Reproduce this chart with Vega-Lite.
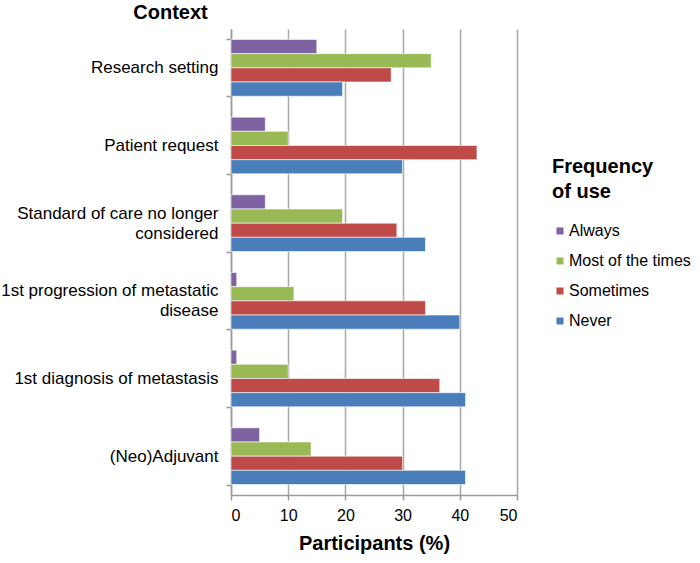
{
  "$schema": "https://vega.github.io/schema/vega-lite/v6.json",
  "width": 286,
  "height": 466,
  "autosize": {"type": "none"},
  "padding": {"left": 231, "top": 29, "right": 183, "bottom": 68},
  "background": "white",
  "config": {
    "font": "Liberation Sans",
    "view": {"stroke": null}
  },
  "data": {
    "values": [
      {"context": "Research setting", "freq": "Always", "value": 15},
      {"context": "Research setting", "freq": "Most of the times", "value": 35},
      {"context": "Research setting", "freq": "Sometimes", "value": 28},
      {"context": "Research setting", "freq": "Never", "value": 19.5},
      {"context": "Patient request", "freq": "Always", "value": 6},
      {"context": "Patient request", "freq": "Most of the times", "value": 10},
      {"context": "Patient request", "freq": "Sometimes", "value": 43},
      {"context": "Patient request", "freq": "Never", "value": 30},
      {"context": "Standard of care no longer considered", "freq": "Always", "value": 6},
      {"context": "Standard of care no longer considered", "freq": "Most of the times", "value": 19.5},
      {"context": "Standard of care no longer considered", "freq": "Sometimes", "value": 29},
      {"context": "Standard of care no longer considered", "freq": "Never", "value": 34},
      {"context": "1st progression of metastatic disease", "freq": "Always", "value": 1},
      {"context": "1st progression of metastatic disease", "freq": "Most of the times", "value": 11},
      {"context": "1st progression of metastatic disease", "freq": "Sometimes", "value": 34},
      {"context": "1st progression of metastatic disease", "freq": "Never", "value": 40},
      {"context": "1st diagnosis of metastasis", "freq": "Always", "value": 1},
      {"context": "1st diagnosis of metastasis", "freq": "Most of the times", "value": 10},
      {"context": "1st diagnosis of metastasis", "freq": "Sometimes", "value": 36.5},
      {"context": "1st diagnosis of metastasis", "freq": "Never", "value": 41},
      {"context": "(Neo)Adjuvant", "freq": "Always", "value": 5},
      {"context": "(Neo)Adjuvant", "freq": "Most of the times", "value": 14},
      {"context": "(Neo)Adjuvant", "freq": "Sometimes", "value": 30},
      {"context": "(Neo)Adjuvant", "freq": "Never", "value": 41}
    ]
  },
  "mark": {"type": "bar", "stroke": "white", "strokeWidth": 0.6},
  "encoding": {
    "y": {
      "field": "context",
      "type": "nominal",
      "sort": ["Research setting", "Patient request", "Standard of care no longer considered", "1st progression of metastatic disease", "1st diagnosis of metastasis", "(Neo)Adjuvant"],
      "scale": {"paddingInner": 0.27, "paddingOuter": 0.135},
      "axis": {
        "title": "Context",
        "titleAngle": 0,
        "titleX": -61,
        "titleY": -11,
        "titleAlign": "center",
        "titleBaseline": "alphabetic",
        "titleFontSize": 20,
        "titleFontWeight": "bold",
        "titleColor": "black",
        "tickBand": "extent",
        "tickSize": 5,
        "tickColor": "#9a9a9a",
        "tickWidth": 1.5,
        "domainColor": "#9a9a9a",
        "domainWidth": 1.5,
        "labelFontSize": 17,
        "labelColor": "black",
        "labelPadding": 8,
        "labelLimit": 300,
        "labelLineHeight": 20,
        "labelOffset": {"condition": {"test": "datum.value == 'Standard of care no longer considered' || datum.value == '1st progression of metastatic disease'", "value": -10}, "value": 0},
        "labelExpr": "datum.value == 'Standard of care no longer considered' ? ['Standard of care no longer', 'considered'] : datum.value == '1st progression of metastatic disease' ? ['1st progression of metastatic', 'disease'] : datum.value"
      }
    },
    "yOffset": {
      "field": "freq",
      "type": "nominal",
      "sort": ["Always", "Most of the times", "Sometimes", "Never"],
      "scale": {"paddingInner": 0, "paddingOuter": 0}
    },
    "x": {
      "field": "value",
      "type": "quantitative",
      "scale": {"domain": [0, 50], "nice": false},
      "axis": {
        "title": "Participants (%)",
        "titleFontSize": 20,
        "titleFontWeight": "bold",
        "titleColor": "black",
        "titlePadding": 10,
        "values": [0, 10, 20, 30, 40, 50],
        "grid": true,
        "gridColor": "#a8a8a8",
        "gridWidth": 1.5,
        "tickSize": 5,
        "tickColor": "#9a9a9a",
        "tickWidth": 1.5,
        "domainColor": "#9a9a9a",
        "domainWidth": 1.5,
        "labelFontSize": 16,
        "labelColor": "black",
        "labelPadding": 7
      }
    },
    "color": {
      "field": "freq",
      "type": "nominal",
      "sort": ["Always", "Most of the times", "Sometimes", "Never"],
      "scale": {
        "domain": ["Always", "Most of the times", "Sometimes", "Never"],
        "range": ["#7E62A1", "#98B954", "#BE4B48", "#4A7EBB"]
      },
      "legend": {
        "title": ["Frequency", "of use"],
        "orient": "none",
        "legendX": 321,
        "legendY": 128,
        "titleFontSize": 20,
        "titleFontWeight": "bold",
        "titleColor": "black",
        "titleLineHeight": 25,
        "titleAnchor": "start",
        "titleAlign": "left",
        "titlePadding": 21,
        "symbolType": "square",
        "symbolSize": 49,
        "symbolStrokeWidth": 0,
        "labelFontSize": 16,
        "labelColor": "black",
        "labelOffset": 1,
        "rowPadding": 14,
        "labelLimit": 200
      }
    }
  }
}
